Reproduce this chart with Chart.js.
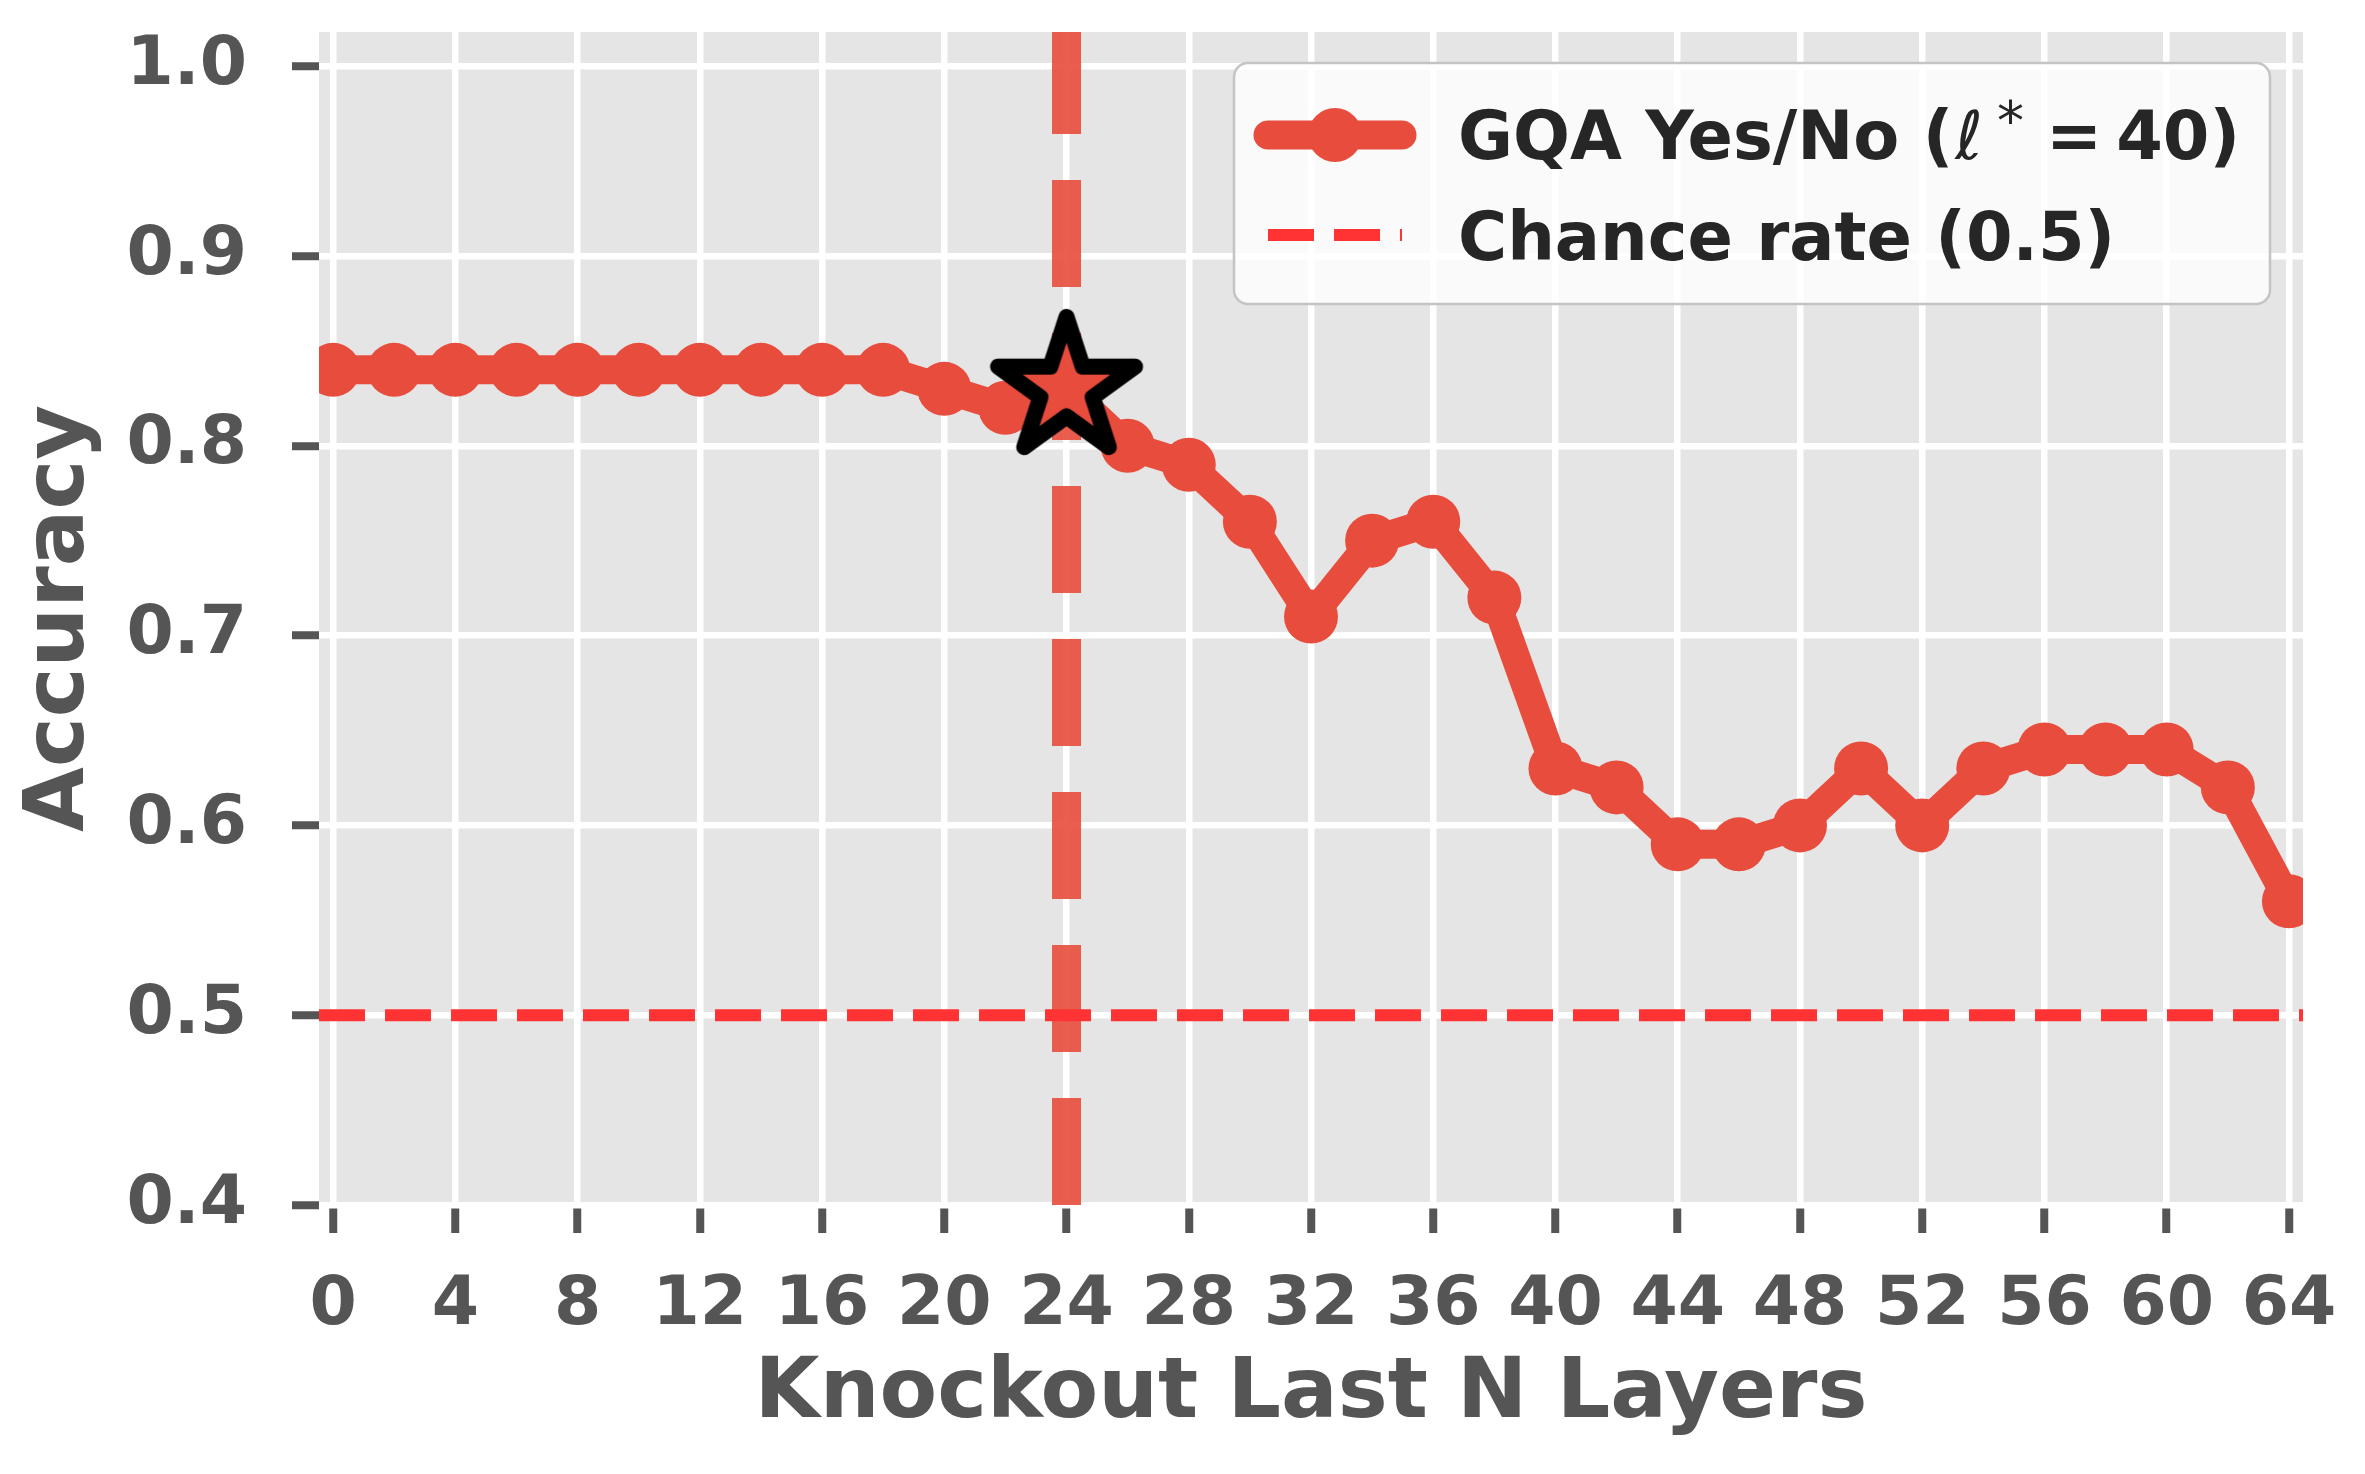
<!DOCTYPE html>
<html>
<head>
<meta charset="utf-8">
<script src="https://cdn.jsdelivr.net/npm/chart.js@4.4.1/dist/chart.umd.min.js"></script>
<style>
  html, body { margin: 0; padding: 0; background: #ffffff; }
  canvas { display: block; }
</style>
</head>
<body>
<canvas id="chart" width="2365" height="1474"></canvas>
<script>
// ---------------- data ----------------
const layers   = [0, 2, 4, 6, 8, 10, 12, 14, 16, 18, 20, 22, 24, 26, 28, 30, 32,
                  34, 36, 38, 40, 42, 44, 46, 48, 50, 52, 54, 56, 58, 60, 62, 64];
const accuracy = [0.84, 0.84, 0.84, 0.84, 0.84, 0.84, 0.84, 0.84, 0.84, 0.84, 0.83, 0.82, 0.83, 0.80, 0.79, 0.76, 0.71,
                  0.75, 0.76, 0.72, 0.63, 0.62, 0.59, 0.59, 0.60, 0.63, 0.60, 0.63, 0.64, 0.64, 0.64, 0.62, 0.56];
const xTickValues = [0, 4, 8, 12, 16, 20, 24, 28, 32, 36, 40, 44, 48, 52, 56, 60, 64];
const yTickValues = [0.4, 0.5, 0.6, 0.7, 0.8, 0.9, 1.0];
const seriesName   = 'GQA Yes/No';
const bestLayer    = 40;          // ℓ* = 40
const markedLayer  = 24;          // vertical dashed line + star
const chanceRate   = 0.5;
const chanceLabel  = 'Chance rate (0.5)';
const xLimits = [-0.46, 64.46];
const yLimits = [0.4, 1.018];
const xTitle = 'Knockout Last N Layers';
const yTitle = 'Accuracy';

// ---------------- styles ----------------
const RED = '#E74C3C';
const CHANCE_RED = '#FF3333';
const TEXT_GREY = '#555555';
const FONT = '"DejaVu Sans", "Liberation Sans", sans-serif';

// star marker image
function makeStar() {
  const R = 72, lw = 16, pad = 6;
  const size = Math.ceil(2 * (R + lw / 2 + pad));
  const c = document.createElement('canvas');
  c.width = size; c.height = size;
  const g = c.getContext('2d');
  const cx = size / 2, cy = size / 2;
  const inner = R * 0.381966;
  g.beginPath();
  for (let k = 0; k < 10; k++) {
    const r = (k % 2 === 0) ? R : inner;
    const a = -Math.PI / 2 + k * Math.PI / 5;
    const px = cx + r * Math.cos(a), py = cy + r * Math.sin(a);
    if (k === 0) g.moveTo(px, py); else g.lineTo(px, py);
  }
  g.closePath();
  g.fillStyle = RED;
  g.fill();
  g.lineJoin = 'round';
  g.lineWidth = lw;
  g.strokeStyle = '#000000';
  g.stroke();
  return c;
}
const starImage = makeStar();

const markedIndex = layers.indexOf(markedLayer);

// ---------------- plugins ----------------
const plotBackground = {
  id: 'plotBackground',
  beforeDraw(chart) {
    const { ctx, chartArea: a } = chart;
    ctx.save();
    ctx.fillStyle = '#E5E5E5';
    ctx.fillRect(a.left, a.top, a.right - a.left, a.bottom - a.top);
    ctx.restore();
  }
};

const customLegend = {
  id: 'customLegend',
  afterDraw(chart) {
    const { ctx, chartArea: a } = chart;
    const bx = a.right - 1069, by = a.top + 31, bw = 1036, bh = 241;
    ctx.save();
    ctx.beginPath();
    ctx.roundRect(bx, by, bw, bh, 14);
    ctx.fillStyle = 'rgba(255,255,255,0.8)';
    ctx.fill();
    ctx.lineWidth = 2.5;
    ctx.strokeStyle = '#C4C4C4';
    ctx.stroke();

    const hx0 = bx + 34, hx1 = bx + 168;
    const y1 = by + 72, y2 = by + 172;
    // series handle
    ctx.strokeStyle = RED;
    ctx.lineWidth = 29;
    ctx.lineCap = 'round';
    ctx.beginPath(); ctx.moveTo(hx0, y1); ctx.lineTo(hx1, y1); ctx.stroke();
    ctx.fillStyle = RED;
    ctx.beginPath(); ctx.arc((hx0 + hx1) / 2, y1, 27, 0, Math.PI * 2); ctx.fill();
    // chance handle
    ctx.strokeStyle = CHANCE_RED;
    ctx.lineWidth = 12;
    ctx.lineCap = 'butt';
    ctx.setLineDash([46, 20]);
    ctx.beginPath(); ctx.moveTo(hx0, y2); ctx.lineTo(hx1, y2); ctx.stroke();
    ctx.setLineDash([]);

    // texts
    const tx = bx + 224;
    const b1 = by + 96, b2 = by + 197;
    ctx.fillStyle = '#262626';
    ctx.textBaseline = 'alphabetic';
    ctx.textAlign = 'left';
    ctx.font = 'bold 67px ' + FONT;
    let x = tx;
    const part1 = seriesName + ' (';
    ctx.fillText(part1, x, b1);
    x += ctx.measureText(part1).width;
    ctx.font = 'italic 67px ' + FONT;
    x += 2;
    ctx.fillText('\u2113', x, b1);
    x += ctx.measureText('\u2113').width;
    ctx.font = '54px ' + FONT;
    x += 14;
    ctx.fillText('*', x, b1 - 20);
    x += ctx.measureText('*').width;
    ctx.font = 'bold 67px ' + FONT;
    x += 22;
    ctx.fillText('=', x, b1);
    x += ctx.measureText('=').width + 14;
    ctx.fillText(bestLayer + ')', x, b1);

    ctx.font = 'bold 67px ' + FONT;
    ctx.fillText(chanceLabel, tx, b2);
    ctx.restore();
  }
};

// ---------------- chart ----------------
Chart.defaults.font.family = FONT;

new Chart(document.getElementById('chart'), {
  type: 'line',
  data: {
    datasets: [
      {
        label: 'star',
        data: [{ x: layers[markedIndex], y: accuracy[markedIndex] }],
        showLine: false,
        pointStyle: starImage,
        pointRadius: 40,
        order: 0,
        clip: false
      },
      {
        label: seriesName,
        data: layers.map((l, i) => ({ x: l, y: accuracy[i] })),
        borderColor: RED,
        backgroundColor: RED,
        borderWidth: 29,
        borderCapStyle: 'round',
        borderJoinStyle: 'round',
        pointRadius: 27,
        pointHoverRadius: 27,
        pointBorderWidth: 0,
        pointBackgroundColor: RED,
        tension: 0,
        order: 1,
        clip: 0
      },
      {
        label: chanceLabel,
        data: [{ x: xLimits[0], y: chanceRate }, { x: xLimits[1], y: chanceRate }],
        borderColor: CHANCE_RED,
        borderWidth: 12,
        borderDash: [46, 20],
        pointRadius: 0,
        order: 2,
        clip: 0
      },
      {
        label: 'marked layer',
        data: [{ x: markedLayer, y: yLimits[0] }, { x: markedLayer, y: yLimits[1] }],
        borderColor: 'rgba(231,76,60,0.9)',
        borderWidth: 29,
        borderDash: [107, 46],
        pointRadius: 0,
        order: 3,
        clip: 0
      }
    ]
  },
  options: {
    responsive: false,
    animation: false,
    devicePixelRatio: 1,
    events: [],
    layout: { autoPadding: false, padding: { top: 32, right: 62, left: 0, bottom: 0 } },
    plugins: {
      legend: { display: false },
      tooltip: { enabled: false }
    },
    scales: {
      x: {
        type: 'linear',
        min: xLimits[0],
        max: xLimits[1],
        afterBuildTicks(scale) { scale.ticks = xTickValues.map(v => ({ value: v })); },
        afterFit(scale) { scale.height = 269; scale.paddingLeft = 0; scale.paddingRight = 0; },
        border: { display: false },
        grid: {
          color: '#FFFFFF',
          lineWidth: 6.5,
          drawTicks: true,
          tickLength: 28,
          tickColor: TEXT_GREY,
          tickWidth: 8
        },
        ticks: {
          autoSkip: false,
          maxRotation: 0,
          minRotation: 0,
          padding: 33,
          color: TEXT_GREY,
          font: { size: 68, weight: 'bold' },
          callback: v => String(v)
        },
        title: {
          display: true,
          text: xTitle,
          color: TEXT_GREY,
          font: { size: 84, weight: 'bold' },
          padding: { top: 0, bottom: 28 }
        }
      },
      y: {
        type: 'linear',
        min: yLimits[0],
        max: yLimits[1],
        afterBuildTicks(scale) { scale.ticks = yTickValues.map(v => ({ value: v })); },
        afterFit(scale) { scale.width = 319; scale.paddingTop = 0; scale.paddingBottom = 0; },
        border: { display: false },
        grid: {
          color: '#FFFFFF',
          lineWidth: 6.5,
          drawTicks: true,
          tickLength: 27,
          tickColor: TEXT_GREY,
          tickWidth: 8
        },
        ticks: {
          padding: 45,
          color: TEXT_GREY,
          font: { size: 68, weight: 'bold' },
          callback: v => Number(v).toFixed(1)
        },
        title: {
          display: true,
          text: yTitle,
          color: TEXT_GREY,
          font: { size: 84, weight: 'bold' },
          padding: { top: 11, bottom: 0 }
        }
      }
    }
  },
  plugins: [plotBackground, customLegend]
});
</script>
</body>
</html>
